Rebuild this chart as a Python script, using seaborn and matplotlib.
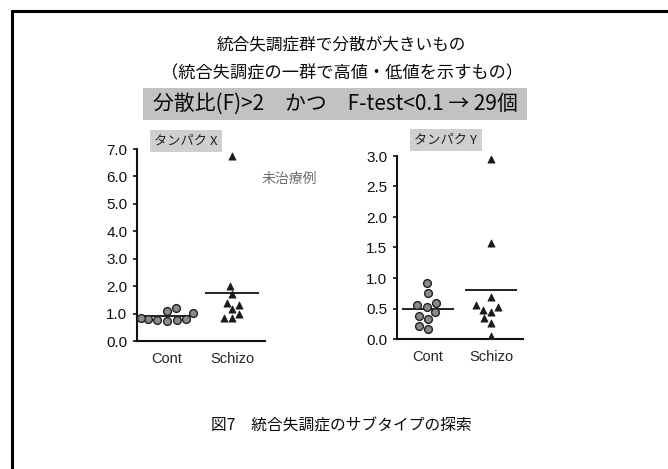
import matplotlib
matplotlib.use("Agg")
import matplotlib.pyplot as plt
from matplotlib.patches import Rectangle
from matplotlib.lines import Line2D
import numpy as np
import pandas as pd
import seaborn as sns

sns.set_theme(style="ticks")
plt.rcParams["font.family"] = ["Liberation Sans", "Noto Sans CJK JP", "DejaVu Sans"]
JP = ["Noto Sans CJK JP", "DejaVu Sans"]

# ---- data -------------------------------------------------------------
groups = ["Cont", "Schizo"]

prot_x_cont = [1.08, 1.21, 1.02, 0.80, 0.76, 0.74, 0.76, 0.80, 0.85]
prot_x_schizo = [6.75, 2.00, 1.72, 1.15, 1.30, 1.40, 0.85, 0.83, 1.00]
prot_x_lines = [0.90, 1.74]

prot_y_cont = [0.91, 0.76, 0.55, 0.59, 0.53, 0.44, 0.38, 0.33, 0.22, 0.16]
prot_y_schizo = [2.95, 1.58, 0.69, 0.52, 0.48, 0.56, 0.45, 0.35, 0.27, 0.05]
prot_y_lines = [0.49, 0.80]

x_ticks = [0.0, 1.0, 2.0, 3.0, 4.0, 5.0, 6.0, 7.0]
y_ticks = [0.0, 0.5, 1.0, 1.5, 2.0, 2.5, 3.0]

title_1 = "統合失調症群で分散が大きいもの"
title_2 = "（統合失調症の一群で高値・低値を示すもの）"
banner = "分散比(F)>2　かつ　F-test<0.1 → 29個"
caption = "図7　統合失調症のサブタイプの探索"
note = "未治療例"


def frame(cont, schizo):
    return pd.DataFrame({
        "group": [groups[0]] * len(cont) + [groups[1]] * len(schizo),
        "value": list(cont) + list(schizo),
    })


W, H = 668, 469
fig = plt.figure(figsize=(W / 100, H / 100), dpi=100)
fig.patch.set_facecolor("white")


def px_axes(x0, y0, x1, y1):
    return fig.add_axes([x0 / W, 1 - y1 / H, (x1 - x0) / W, (y1 - y0) / H])


def dot_panel(ax, df, lines, ticks, ylim, xlim, fmt):
    sub_c = df[df.group == groups[0]]
    sub_s = df[df.group == groups[1]]
    sns.swarmplot(data=sub_c, x="group", y="value", order=groups, ax=ax,
                  marker="o", size=5.6, color="#8a8a8a", edgecolor="#222222",
                  linewidth=1.0)
    sns.swarmplot(data=sub_s, x="group", y="value", order=groups, ax=ax,
                  marker="^", size=5.2, color="#1a1a1a", edgecolor="#1a1a1a",
                  linewidth=0.5)
    for i, m in enumerate(lines):
        ax.hlines(m, i - 0.42, i + 0.42, color="#111111", lw=1.3, zorder=1)
    ax.set_ylim(*ylim)
    ax.set_xlim(*xlim)
    ax.set_yticks(ticks)
    ax.set_yticklabels([fmt.format(t) for t in ticks], fontsize=11)
    ax.set_xlabel("")
    ax.set_ylabel("")
    ax.tick_params(axis="x", length=0, labelsize=10.5, pad=8)
    ax.tick_params(axis="y", length=3, width=1.2, pad=4, colors="#111111")
    for s in ["top", "right"]:
        ax.spines[s].set_visible(False)
    for s in ["left", "bottom"]:
        ax.spines[s].set_linewidth(1.5)
        ax.spines[s].set_color("#111111")
    ax.set_facecolor("white")


ax1 = px_axes(137, 149, 265, 341)
dot_panel(ax1, frame(prot_x_cont, prot_x_schizo), prot_x_lines, x_ticks,
          (0, 7.0), (-0.461, 1.507), "{:.1f}")

ax2 = px_axes(397, 156, 523, 339)
dot_panel(ax2, frame(prot_y_cont, prot_y_schizo), prot_y_lines, y_ticks,
          (0, 3.0), (-0.492, 1.508), "{:.1f}")

# ---- frame lines --------------------------------------------------------
fig.add_artist(Line2D([12 / W, 12 / W], [0, 1 - 11 / H], color="black", lw=2.2))
fig.add_artist(Line2D([12 / W, 1], [1 - 11 / H, 1 - 11 / H], color="black", lw=2.2))

# ---- headings -----------------------------------------------------------
fig.text(341 / W, 1 - 46 / H, title_1, ha="center", va="center",
         fontsize=12, family=JP, color="#0a0a0a")
fig.text(342 / W, 1 - 73 / H, title_2, ha="center", va="center",
         fontsize=12.4, family=JP, color="#0a0a0a")

fig.add_artist(Rectangle((143 / W, 1 - 120 / H), (527 - 143) / W, 32 / H,
                         transform=fig.transFigure, facecolor="#c2c2c2",
                         edgecolor="none"))
fig.text(335 / W, 1 - 104 / H, banner, ha="center", va="center",
         fontsize=15, family=JP, color="#0a0a0a")

# panel labels
for cx, cy, label in [(186, 141, "タンパク X"), (446, 140, "タンパク Y")]:
    fig.text(cx / W, 1 - cy / H, label, ha="center", va="center", fontsize=9.5,
             family=JP, color="#222222",
             bbox=dict(boxstyle="square,pad=0.35", facecolor="#cfcfcf",
                       edgecolor="none"))

fig.text(289 / W, 1 - 179 / H, note, ha="center", va="center", fontsize=10,
         family=JP, color="#6e6e6e")

fig.text(341 / W, 1 - 426 / H, caption, ha="center", va="center",
         fontsize=11.3, family=JP, color="#0a0a0a")

fig.savefig("out.png", dpi=100, facecolor="white")
